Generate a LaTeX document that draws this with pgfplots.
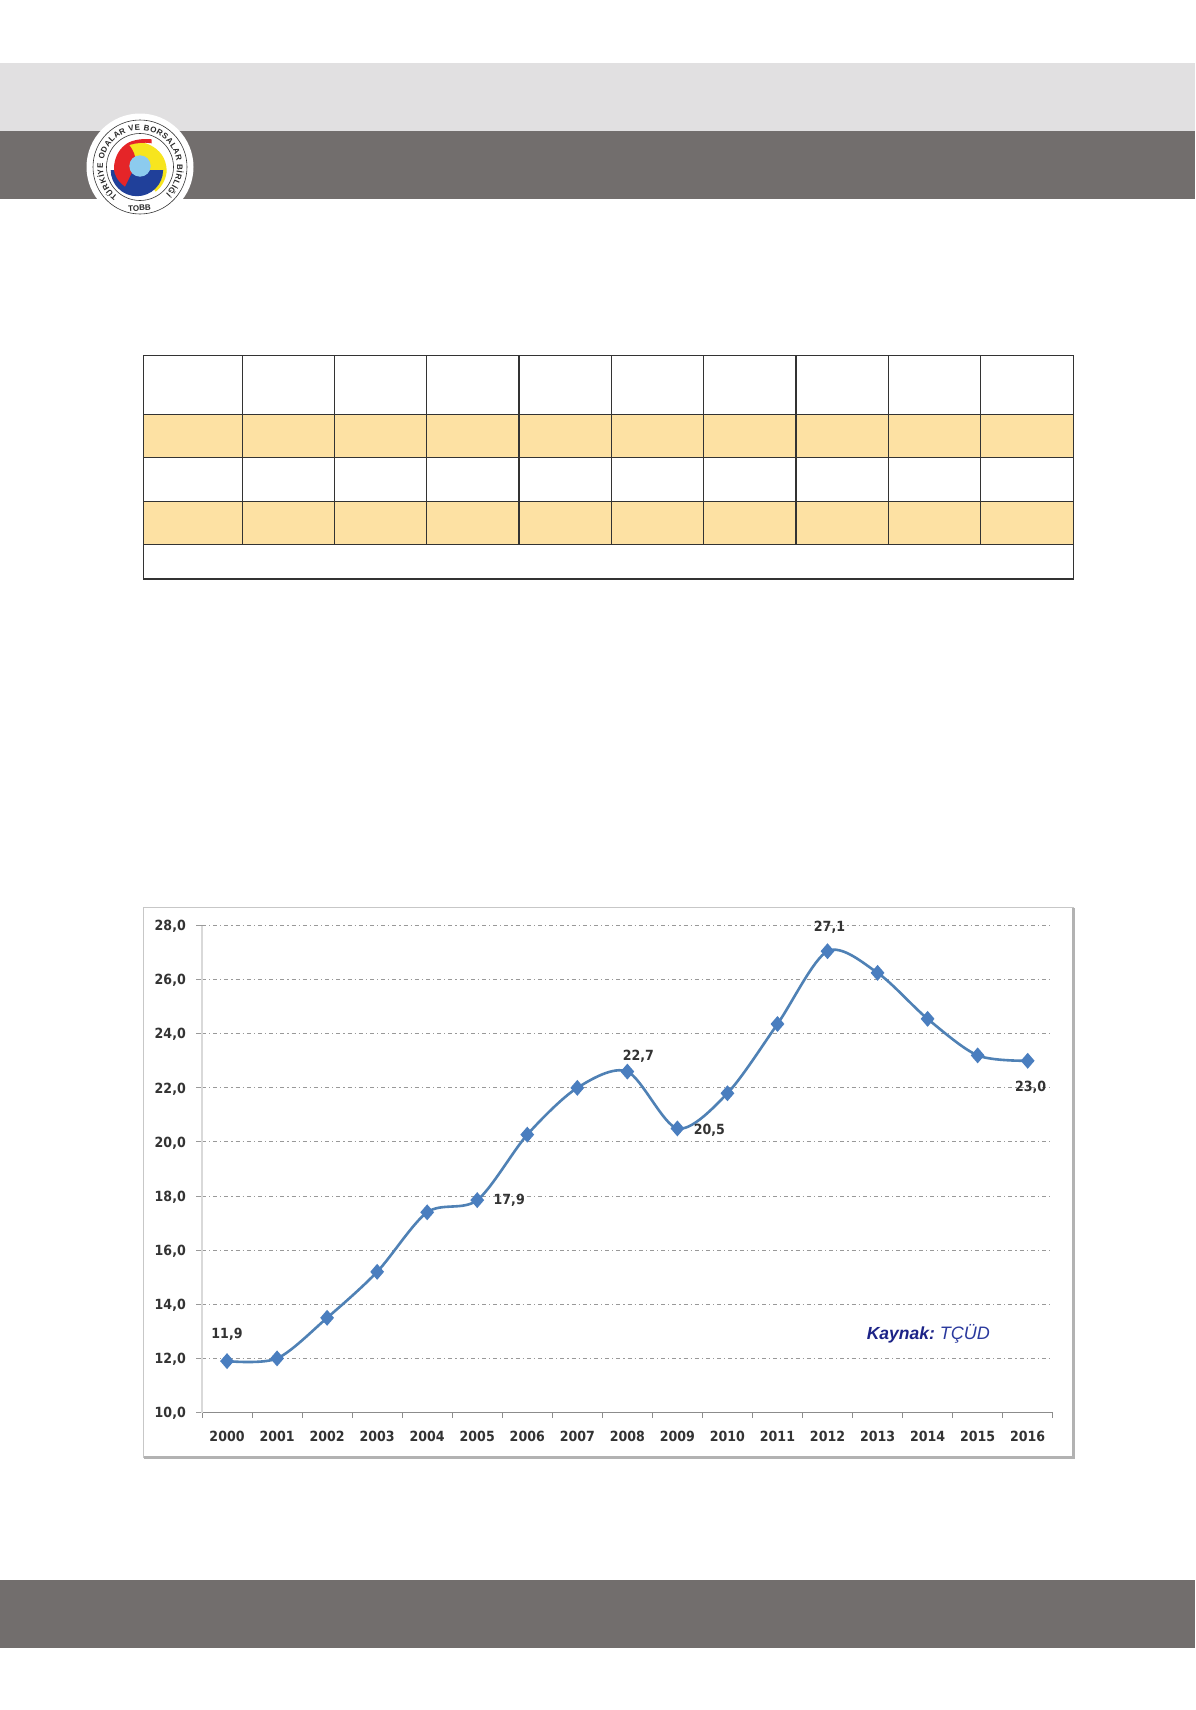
\documentclass[border=0pt]{standalone}
\usepackage{fontspec}
\usepackage{pgfplots}
\usepackage{pgfplotstable}
\pgfplotsset{compat=1.18}
\usetikzlibrary{decorations.text}
\setmainfont{Liberation Sans}
% the chart in the reference is a picture stretched upwards, hence the narrowed font
\newfontfamily\chartfont{DejaVu Sans}[FakeStretch=0.9]
\newcommand{\lblfont}{\chartfont\bfseries\fontsize{14}{16}\selectfont}
\definecolor{bandlight}{HTML}{E1E0E1}
\definecolor{banddark}{HTML}{726E6D}
\definecolor{rowfill}{HTML}{FDE1A3}
\definecolor{tableline}{HTML}{333333}
\definecolor{chartline}{HTML}{4F81B5}
\definecolor{chartmark}{HTML}{4A7EBF}
\definecolor{lbl}{HTML}{333333}
\definecolor{logored}{HTML}{E52528}
\definecolor{logoyellow}{HTML}{F7E51E}
\definecolor{logoblue}{HTML}{20409A}
\definecolor{logocyan}{HTML}{8CCBEE}
\pgfplotstableread{
yr    val
0     11.9
1     12.0
2     13.5
3     15.2
4     17.4
5     17.85
6     20.27
7     22.0
8     22.6
9     20.5
10    21.8
11    24.36
12    27.05
13    26.25
14    24.55
15    23.2
16    23.0
}\rates
\begin{document}
\begin{tikzpicture}
% page furniture, in reference pixels with y running down
\begin{scope}[x=1pt,y=-1pt]
\path[use as bounding box,fill=white] (0,0) rectangle (1195,1710);
\fill[bandlight] (0,62.7) rectangle (1195,130.7);
\fill[banddark] (0,130.7) rectangle (1195,198.7);
\fill[banddark] (0,1580) rectangle (1195,1648.3);
% logo
\fill[white] (140,167) circle[radius=53.5];
\draw[black!80,line width=0.6pt] (140,167) circle[radius=47];
\draw[black!80,line width=0.6pt] (140,167) circle[radius=33.5];
\path[decorate,decoration={text along path,text align={fit to path},
  text={|\bfseries\fontsize{8}{8}\selectfont\color{black!85}|TÜRKİYE ODALAR VE BORSALAR BİRLİĞİ}}]
  (140,167) ++(127:37) arc[start angle=127,end angle=406,radius=37];
\node[font=\bfseries\fontsize{8}{8}\selectfont,text=black!85,rotate=3] at (139.5,208) {TOBB};
\fill[logoyellow] (129,145) .. controls (138,142) and (145,142) .. (150,145)
  .. controls (160,150) and (166,158) .. (166.7,170)
  .. controls (166.7,178) and (162,187) .. (155.7,191.7) -- (140,170) -- cycle;
\fill[logoblue] (110.7,170) arc[start angle=180,end angle=0,radius=26.2] -- cycle;
\fill[logored] (125,145) .. controls (129,141) and (140,138) .. (151.7,139.3)
  -- (151.7,143.3) .. controls (144,142) and (136,143) .. (129.3,145)
  .. controls (133,150) and (136,156) .. (135,160)
  .. controls (134,166) and (134,170) .. (131.7,173)
  -- (125,186.7) .. controls (118,181) and (114,176) .. (114,168)
  .. controls (114,160) and (118,150) .. (125,145) -- cycle;
\fill[logocyan] (140,166) circle[radius=10.7];
% empty table
\fill[rowfill] (143.3,414.3) rectangle (1073.3,457.7);
\fill[rowfill] (143.3,501.3) rectangle (1073.3,544.3);
\draw[tableline,line width=1.2pt] (143.3,355.3) rectangle (1073.3,579);
\foreach \yy in {414.3,457.7,501.3,544.3}
  \draw[tableline,line width=1.2pt] (143.3,\yy) -- (1073.3,\yy);
\foreach \xx in {242.3,334.4,426.7,519,611.3,703.6,795.9,888.2,980.7}
  \draw[tableline,line width=1.2pt] (\xx,355.3) -- (\xx,544.3);
% chart frame
\draw[black!22,line width=1.5pt] (143.5,907.5) rectangle (1073,1457.5);
\draw[black!30,line width=3pt] (143.5,1457.5) -- (1073,1457.5) -- (1073,907.5);
\end{scope}
\begin{axis}[
  at={(202pt,-1412.5pt)},anchor=south west,
  scale only axis,width=850.7pt,height=487pt,
  xmin=-0.5,xmax=16.5,ymin=10,ymax=28,
  axis x line=bottom,axis y line=left,
  x axis line style={-,draw=black!45,line width=1.2pt},
  y axis line style={-,draw=black!15,line width=1.5pt},
  xtick={0,...,16},
  xticklabels={2000,2001,2002,2003,2004,2005,2006,2007,2008,2009,2010,2011,2012,2013,2014,2015,2016},
  minor xtick={-0.5,0.5,...,16.5},
  xtick style={draw=none},
  minor x tick style={draw=black!45,line width=1pt},
  minor tick length=5pt,
  ytick={10,12,...,28},
  ymajorgrids,
  major grid style={draw=black!40,line width=1pt,dash pattern=on 4pt off 3pt on 1.2pt off 3pt},
  ytick style={draw=black!40,line width=1pt},
  tick align=outside,
  major tick length=6pt,
  /pgf/number format/.cd,use comma,fixed,fixed zerofill,precision=1,assume math mode=true,
  /pgfplots/.cd,
  tick label style={font=\lblfont,text=lbl,inner sep=0pt},
  xticklabel style={anchor=center,yshift=-18pt},
  yticklabel style={anchor=east,xshift=-10pt,yshift=-1pt},
  clip=false,
]
\addplot[chartline,line width=2.6pt,smooth,tension=0.5,
  mark=diamond*,mark size=6pt,
  mark options={solid,draw=chartmark,fill=chartmark,xscale=1.15}]
  table[x=yr,y=val] {\rates};
\node[font=\lblfont,text=lbl] at (axis cs:0,11.9) [yshift=26.6pt] {11,9};
\node[font=\lblfont,text=lbl] at (axis cs:5,17.85) [xshift=32pt] {17,9};
\node[font=\lblfont,text=lbl] at (axis cs:8,22.6) [xshift=11pt,yshift=15.5pt] {22,7};
\node[font=\lblfont,text=lbl] at (axis cs:9,20.5) [xshift=32pt,yshift=-1.5pt] {20,5};
\node[font=\lblfont,text=lbl] at (axis cs:12,27.05) [xshift=2pt,yshift=24pt] {27,1};
\node[font=\lblfont,text=lbl] at (axis cs:16,23) [xshift=3pt,yshift=-26.5pt] {23,0};
\node[anchor=west,inner sep=0pt,font=\fontsize{17.5}{20}\selectfont] at (axis cs:12.78,12.9)
  {\textcolor[HTML]{1C2387}{\bfseries\itshape Kaynak:}\hspace{5pt}\textcolor[HTML]{2B3A9E}{\fontsize{18}{20}\selectfont\itshape TÇÜD}};
\end{axis}
\end{tikzpicture}
\end{document}
